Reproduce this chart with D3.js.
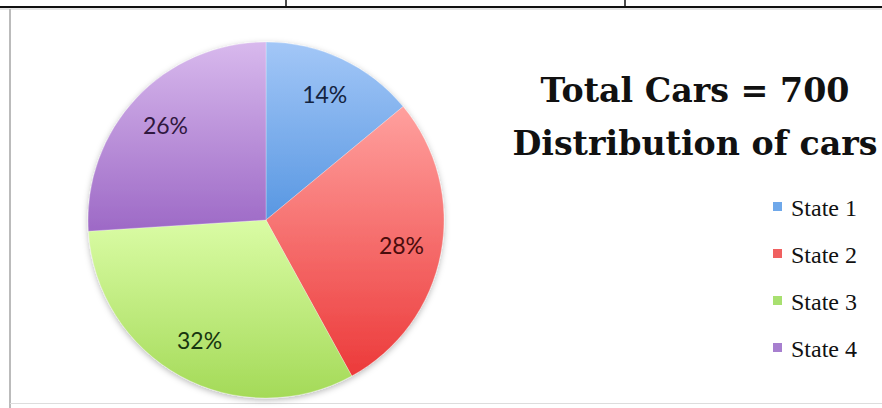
<!DOCTYPE html>
<html><head><meta charset="utf-8">
<script src="https://cdn.jsdelivr.net/npm/d3@7/dist/d3.min.js"></script>
<style>html,body{margin:0;padding:0;background:#fff;overflow:hidden}</style>
</head><body>
<svg id="c" width="882" height="408"></svg>
<script>
const categories = ["State 1", "State 2", "State 3", "State 4"];
const values = [14, 28, 32, 26];
const labels = ["14%", "28%", "32%", "26%"];
const titleLines = ["Total Cars = 700", "Distribution of cars"];
const colorsTop = ["#a3c7f7", "#ffa09e", "#dafca5", "#d8b9ed"];
const colorsBottom = ["#5897e2", "#ec3a3a", "#a4da58", "#9d69c6"];
const labelColors = ["#14233f", "#4a0c0c", "#183510", "#30183f"];
const legendColors = ["#6fa8ea", "#f06060", "#a8e070", "#a77fcf"];

const svg = d3.select("#c");
const W = 882, H = 408;

// frame lines (table borders)
svg.append("line").attr("x1",0).attr("x2",W).attr("y1",7).attr("y2",7).attr("stroke","#111").attr("stroke-width",2);
svg.append("line").attr("x1",0).attr("x2",W).attr("y1",9).attr("y2",9).attr("stroke","#ccc").attr("stroke-width",1);
[286,625].forEach(x=>svg.append("line").attr("x1",x).attr("x2",x).attr("y1",0).attr("y2",7).attr("stroke","#111").attr("stroke-width",1.5));
svg.append("line").attr("x1",10).attr("x2",10).attr("y1",9).attr("y2",H).attr("stroke","#bbb").attr("stroke-width",2);
svg.append("line").attr("x1",10).attr("x2",W).attr("y1",403.5).attr("y2",403.5).attr("stroke","#ddd").attr("stroke-width",1);

const defs = svg.append("defs");
const f = defs.append("filter").attr("id","sh").attr("x","-10%").attr("y","-10%").attr("width","120%").attr("height","125%");
f.append("feDropShadow").attr("dx",0).attr("dy",2).attr("stdDeviation",3).attr("flood-color","#000").attr("flood-opacity",0.28);

categories.forEach((c,i)=>{
  const g = defs.append("linearGradient").attr("id","g"+i).attr("x1",0).attr("y1",0).attr("x2",0).attr("y2",1);
  g.append("stop").attr("offset","0%").attr("stop-color",colorsTop[i]);
  g.append("stop").attr("offset","100%").attr("stop-color",colorsBottom[i]);
});

const cx = 266, cy = 220, R = 178;
const pie = d3.pie().sort(null).value(d=>d)(values);
const arc = d3.arc().innerRadius(0).outerRadius(R);
const labelArc = d3.arc().innerRadius(R*0.775).outerRadius(R*0.775);

const gp = svg.append("g").attr("transform",`translate(${cx},${cy})`);
gp.append("g").attr("filter","url(#sh)").selectAll("path").data(pie).join("path")
  .attr("d",arc).attr("fill",(d,i)=>`url(#g${i})`)
  .attr("stroke","rgba(255,255,255,0.35)").attr("stroke-width",0.8);

gp.selectAll("text").data(pie).join("text")
  .attr("transform",d=>`translate(${labelArc.centroid(d)})`)
  .attr("text-anchor","middle").attr("dy","0.35em")
  .attr("font-family","Lato, 'Open Sans', sans-serif").attr("font-size",23)
  .attr("fill",(d,i)=>labelColors[i])
  .text((d,i)=>labels[i]);

// title
const tt = svg.append("text").attr("text-anchor","middle")
  .attr("font-family","'DejaVu Serif', 'Liberation Serif', serif").attr("font-weight","bold")
  .attr("font-size",32).attr("fill","#111");
const spans = tt.selectAll("tspan").data(titleLines).join("tspan")
  .attr("x",695).attr("y",(d,i)=>102 + i*53).text(d=>d);
// fit first line to the reference width (~309px)
const w0 = spans.nodes()[0].getComputedTextLength();
tt.attr("font-size", 32*309/w0);

// legend
const leg = svg.append("g");
const ly = d3.scalePoint().domain(categories).range([208, 349]);
categories.forEach((c,i)=>{
  leg.append("rect").attr("x",773).attr("y",ly(c)-6).attr("width",9).attr("height",9).attr("fill",legendColors[i]);
  leg.append("text").attr("x",791).attr("y",ly(c)+8)
    .attr("font-family","'Liberation Serif', 'DejaVu Serif', serif").attr("font-size",24).attr("fill","#111")
    .text(c);
});
</script>
</body></html>
